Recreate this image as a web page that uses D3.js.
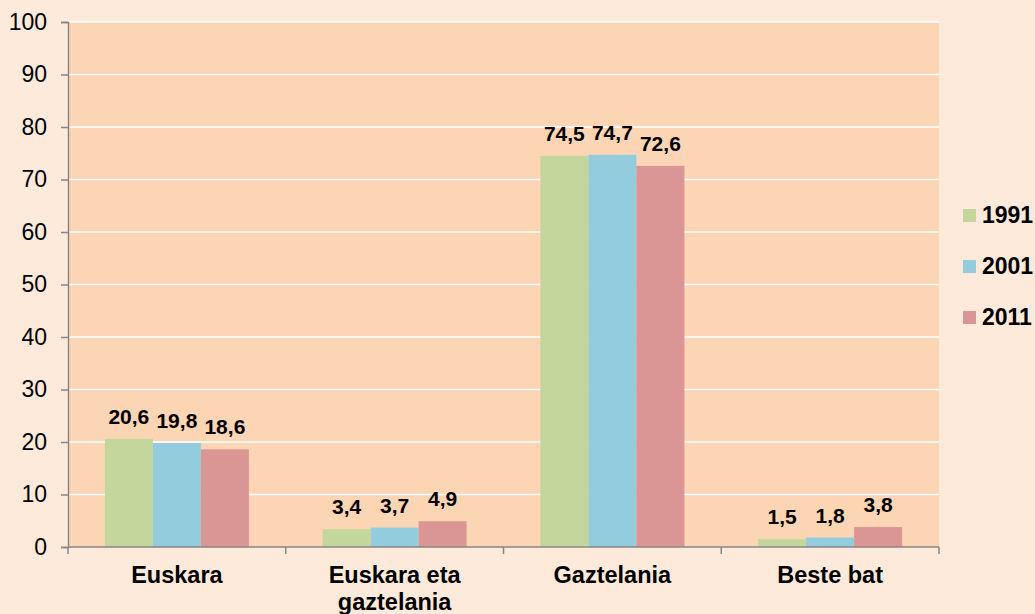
<!DOCTYPE html>
<html>
<head>
<meta charset="utf-8">
<script src="https://cdn.jsdelivr.net/npm/d3@7"></script>
<style>
  body { margin: 0; background: #FDEADA; overflow: hidden; }
  svg { display: block; font-family: "Liberation Sans", Arial, sans-serif; }
</style>
</head>
<body>
<div id="chart"></div>
<script>
var categories = [["Euskara"], ["Euskara eta", "gaztelania"], ["Gaztelania"], ["Beste bat"]];
var years = ["1991", "2001", "2011"];
var v1991 = [20.6, 3.4, 74.5, 1.5];
var v2001 = [19.8, 3.7, 74.7, 1.8];
var v2011 = [18.6, 4.9, 72.6, 3.8];
var yTicks = [0, 10, 20, 30, 40, 50, 60, 70, 80, 90, 100];
var colors = ["#C3D69B", "#93CDDD", "#D99694"];

var series = [v1991, v2001, v2011];

var W = 1035, H = 614,
    margin = {top: 22, right: 96, bottom: 67, left: 68},
    width = W - margin.left - margin.right,
    height = H - margin.top - margin.bottom;

var svg = d3.select("#chart").append("svg")
    .attr("width", W)
    .attr("height", H);

svg.append("rect")
    .attr("width", W).attr("height", H)
    .attr("fill", "#FDEADA");

var g = svg.append("g")
    .attr("transform", "translate(" + margin.left + "," + margin.top + ")");

var x = d3.scaleBand()
    .domain(d3.range(categories.length))
    .range([0, width])
    .paddingInner(0.3386)
    .paddingOuter(0.1693);

var x1 = d3.scaleBand()
    .domain(d3.range(years.length))
    .range([0, x.bandwidth()]);

var y = d3.scaleLinear()
    .domain([0, 100])
    .range([height, 0]);

g.append("rect")
    .attr("width", width).attr("height", height)
    .attr("fill", "#FCD5B5");

// gridlines
g.selectAll(".grid")
  .data(yTicks.filter(function(d) { return d > 0; }))
  .enter().append("line")
    .attr("x1", 0).attr("x2", width)
    .attr("y1", function(d) { return y(d); })
    .attr("y2", function(d) { return y(d); })
    .attr("stroke", "#ffffff")
    .attr("stroke-width", 1.5);

// bars
series.forEach(function(vals, si) {
  g.selectAll(".bar" + si)
    .data(vals)
    .enter().append("rect")
      .attr("x", function(d, i) { return x(i) + x1(si); })
      .attr("y", function(d) { return y(d); })
      .attr("width", x1.bandwidth())
      .attr("height", function(d) { return height - y(d); })
      .attr("fill", colors[si]);

  g.selectAll(".lab" + si)
    .data(vals)
    .enter().append("text")
      .attr("x", function(d, i) { return x(i) + x1(si) + x1.bandwidth() / 2; })
      .attr("y", function(d) { return y(d) - 15; })
      .attr("text-anchor", "middle")
      .style("font-size", "21px")
      .attr("font-weight", "bold")
      .attr("fill", "#000")
      .text(function(d) { return String(d).replace(".", ","); });
});

// y axis
var yAxis = g.append("g")
    .call(d3.axisLeft(y).tickValues(yTicks).tickSize(7).tickPadding(14));
yAxis.select(".domain").attr("stroke", "#868686").attr("stroke-width", 1.5);
yAxis.selectAll(".tick line").attr("stroke", "#868686").attr("stroke-width", 1.5);
yAxis.selectAll(".tick text")
    .style("font-size", "23px")
    .attr("font-family", "Liberation Sans, Arial, sans-serif")
    .attr("fill", "#000");

// x axis: boundary ticks between categories
var xg = g.append("g").attr("transform", "translate(0," + height + ")");
xg.append("line")
    .attr("x1", 0).attr("x2", width)
    .attr("stroke", "#868686").attr("stroke-width", 1.5);
var step = width / categories.length;
xg.selectAll(".xt")
  .data(d3.range(categories.length + 1))
  .enter().append("line")
    .attr("x1", function(d) { return d * step; })
    .attr("x2", function(d) { return d * step; })
    .attr("y1", 0).attr("y2", 7)
    .attr("stroke", "#868686").attr("stroke-width", 1.5);

xg.selectAll(".xl")
  .data(categories)
  .enter().append("text")
    .attr("x", function(d, i) { return x(i) + x.bandwidth() / 2; })
    .attr("y", 36)
    .attr("text-anchor", "middle")
    .style("font-size", "23.5px")
    .attr("font-weight", "bold")
    .attr("fill", "#000")
    .each(function(d) {
      var t = d3.select(this);
      d.forEach(function(line, k) {
        t.append("tspan")
          .attr("x", t.attr("x"))
          .attr("dy", k === 0 ? 0 : 27)
          .text(line);
      });
    });

// legend
var legend = svg.append("g")
    .attr("transform", "translate(963,209)");
years.forEach(function(yr, i) {
  var lg = legend.append("g").attr("transform", "translate(0," + i * 51 + ")");
  lg.append("rect")
    .attr("width", 13).attr("height", 13)
    .attr("fill", colors[i]);
  lg.append("text")
    .attr("x", 19).attr("y", 14)
    .style("font-size", "23px")
    .attr("font-weight", "bold")
    .attr("fill", "#000")
    .text(yr);
});
</script>
</body>
</html>
